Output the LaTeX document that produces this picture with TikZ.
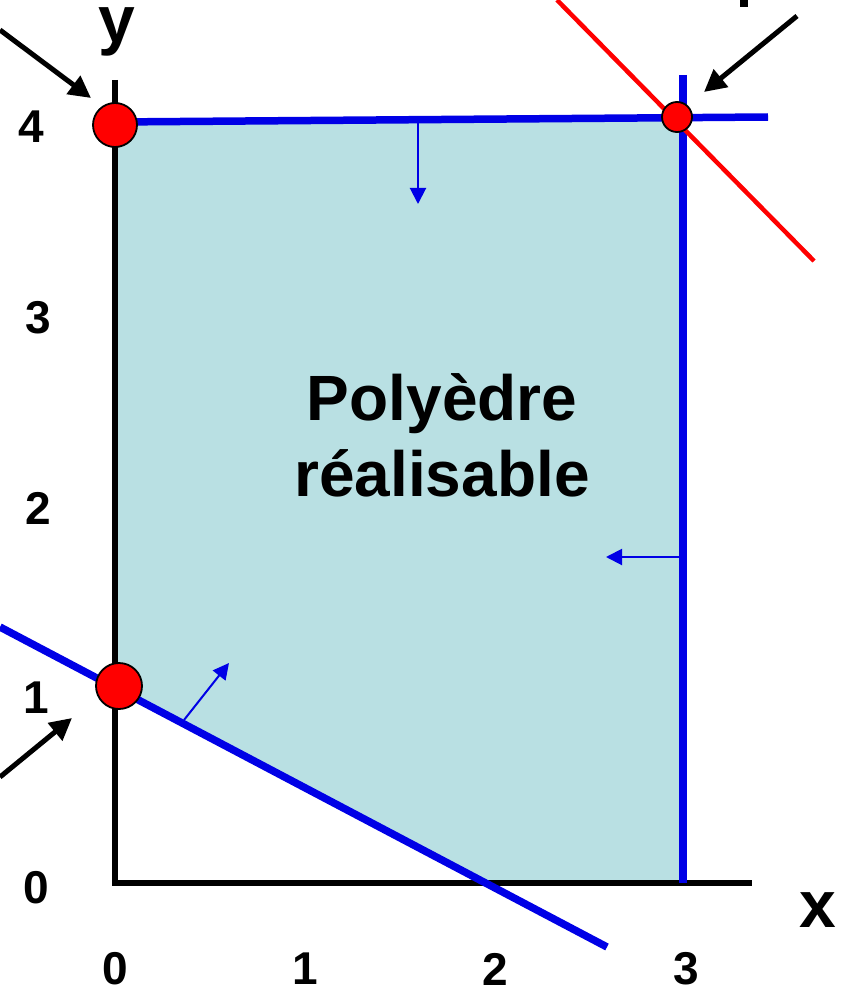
\documentclass[tikz,border=0pt]{standalone}
\usepackage{fontspec}
\setmainfont{Liberation Sans}
\usetikzlibrary{arrows.meta}
\definecolor{feasfill}{RGB}{185,224,227}
\definecolor{cblue}{RGB}{0,0,230}
\definecolor{cred}{RGB}{255,0,0}
\tikzset{
  axisline/.style={black,line width=5.5pt},
  bigline/.style={cblue,line width=7.5pt},
  redline/.style={cred,line width=4.5pt},
  smallarrow/.style={cblue,line width=2pt,-{Triangle[length=16pt,width=16pt]}},
  pointer/.style={black,line width=5pt,-{Triangle[length=22pt,width=22pt]}},
  vertexdot/.style={circle,fill=cred,draw=black,line width=1.8pt,inner sep=0pt},
  ticklabel/.style={font=\bfseries\fontsize{46}{50}\selectfont,inner sep=0pt},
  axislabel/.style={font=\bfseries\fontsize{66}{70}\selectfont,inner sep=0pt}
}
\begin{document}
\begin{tikzpicture}[x=1pt,y=-1pt]
\useasboundingbox (0,0) rectangle (846,987);
% key points
\coordinate (TL) at (115,122);
\coordinate (TR) at (683,118);
\coordinate (BR) at (683,883);
\coordinate (BX) at (485,883);
\coordinate (LY) at (115,687);
\coordinate (O) at (115,883);
% feasible region
\fill[feasfill] (TL) -- (TR) -- (BR) -- (BX) -- (LY) -- cycle;
% axes
\coordinate (Ytop) at (115,80);
\coordinate (Xend) at (752,883);
\draw[axisline] (Ytop) -- (O) -- (Xend);
% constraint lines
\coordinate (A1) at (115,122);
\coordinate (A2) at (768,117);
\draw[bigline] (A1) -- (A2);
\coordinate (V1) at (683,75);
\coordinate (V2) at (683,883);
\draw[bigline] (V1) -- (V2);
\coordinate (L1) at (0,627);
\coordinate (L2) at (607,947);
\draw[bigline] (L1) -- (L2);
% objective line
\coordinate (R1) at (557,0);
\coordinate (R2) at (814,261);
\draw[redline] (R1) -- (R2);
% direction arrows
\coordinate (s1a) at (418,120);
\coordinate (s1b) at (418,204);
\draw[smallarrow] (s1a) -- (s1b);
\coordinate (s2a) at (683,557);
\coordinate (s2b) at (606,557);
\draw[smallarrow] (s2a) -- (s2b);
\coordinate (s3a) at (184,720);
\coordinate (s3b) at (229,663);
\draw[smallarrow] (s3a) -- (s3b);
% vertices
\node[vertexdot,minimum size=44pt] (P1) at (115,125) {};
\node[vertexdot,minimum size=46pt] (P2) at (119,686) {};
\node[vertexdot,minimum size=30pt] (P3) at (677,117) {};
% pointers
\coordinate (q1) at (0,30);
\coordinate (q1e) at (91,98);
\draw[pointer] (q1) -- (q1e);
\coordinate (q2) at (0,777);
\coordinate (q2e) at (72,718);
\draw[pointer] (q2) -- (q2e);
\coordinate (q3) at (797,16);
\coordinate (q3e) at (704,92);
\draw[pointer] (q3) -- (q3e);
% clipped fragment at top
\fill[black] (740,0) rectangle (748,7);
% labels
\node[font=\bfseries\fontsize{64}{76}\selectfont,align=center,inner sep=0pt] (title) at (442,435) {Polyèdre\\réalisable};
\node[ticklabel] (x0) at (115,969) {0};
\node[ticklabel] (x1) at (305,969) {1};
\node[ticklabel] (x2) at (495,969) {2};
\node[ticklabel] (x3) at (686,969) {3};
\node[ticklabel] (y4) at (31,127) {4};
\node[ticklabel] (y3) at (38,318) {3};
\node[ticklabel] (y2) at (38,508) {2};
\node[ticklabel] (y1) at (36,698) {1};
\node[ticklabel] (y0) at (36,888) {0};
\node[axislabel,anchor=base] (ylab) at (117,43) {y};
\node[axislabel,anchor=base] (xlab) at (818,927) {x};
\end{tikzpicture}
\end{document}
